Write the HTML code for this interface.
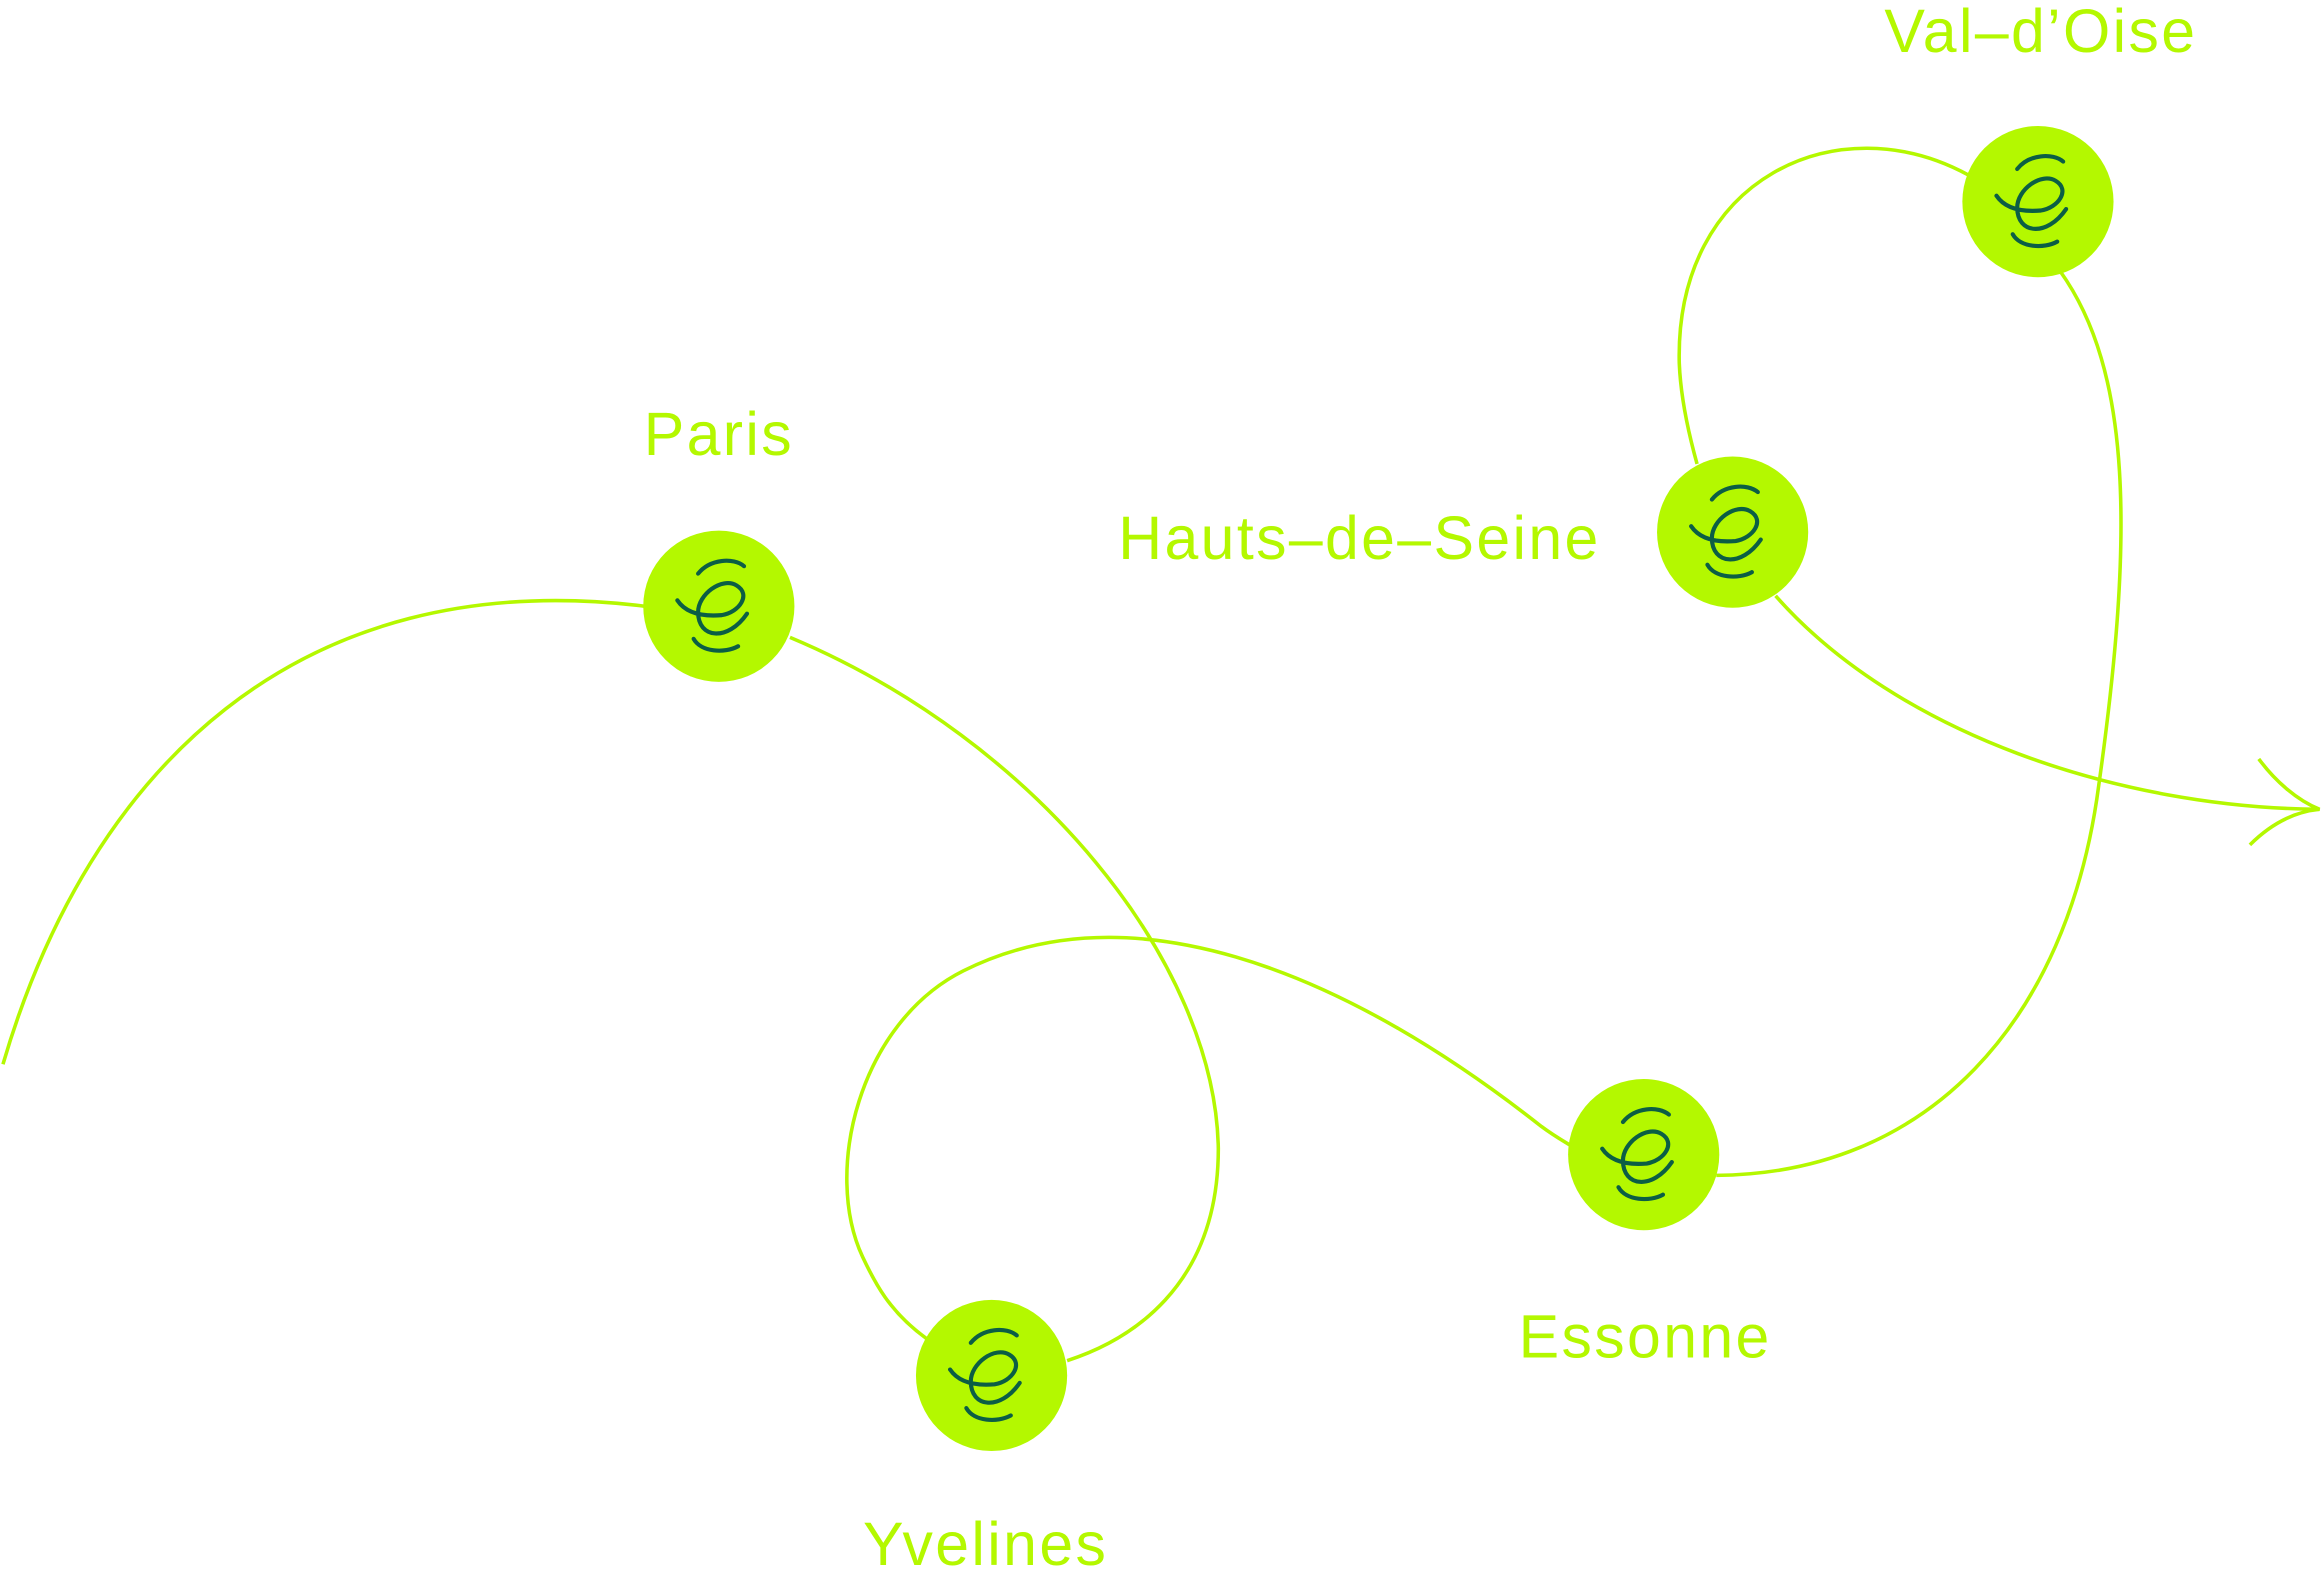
<!DOCTYPE html>
<html><head><meta charset="utf-8"><style>
html,body{margin:0;padding:0;background:#fff;}
svg{display:block}
text{font-family:"Liberation Sans",sans-serif;font-size:41px;fill:#b4f800;letter-spacing:1.6px;}
</style></head><body>
<svg width="2324" height="1583" viewBox="0 0 1568 1068" xmlns="http://www.w3.org/2000/svg">
<defs>
<g id="ic">
<circle r="51" fill="#b4f800"/>
<g fill="none" stroke="#0b5e45" stroke-width="2.8" stroke-linecap="round">
<path d="M-14,-22 C-6,-32 10,-33 17,-27"/>
<path d="M-28,-4 C-22,5 -10,7 2,6 C14,4 22,-8 12,-14 C2,-20 -14,-8 -14,4 C-14,22 6,24 19,5"/>
<path d="M-17,22 C-12,31 4,32 13,27"/>
</g>
</g>
</defs>
<g fill="none" stroke="#b4f800" stroke-width="2.4">
<path d="M2,718 C60,520 200,380 435,409"/>
<path d="M533,430 C700,500 820,650 822,775 C822,870 760,905 720,918"/>
<path d="M625,903 C600,885 590,865 582,848 C555,790 580,690 650,655 C760,600 900,650 1040,760 C1048,766 1055,770 1060,773"/>
<path d="M1158,793 C1300,792 1395,690 1416,530 C1440,360 1438,250 1390,183"/>
<path d="M1328,118 C1240,70 1130,120 1133,245 C1134,270 1140,295 1145,313"/>
<path d="M1198,402 C1280,495 1430,545 1565,546"/>
<path d="M1524,512 C1535,527 1550,540 1565,546 C1545,548 1530,558 1518,570"/>
</g>
<use href="#ic" x="485" y="409"/>
<use href="#ic" x="669" y="928"/>
<use href="#ic" x="1109" y="779"/>
<use href="#ic" x="1169" y="359"/>
<use href="#ic" x="1375" y="136"/>
<text x="485" y="307" text-anchor="middle">Paris</text>
<text x="1377" y="35" text-anchor="middle">Val–d’Oise</text>
<text x="1080" y="377" text-anchor="end">Hauts–de–Seine</text>
<text x="1110" y="916" text-anchor="middle">Essonne</text>
<text x="665" y="1056" text-anchor="middle">Yvelines</text>
</svg>
</body></html>
